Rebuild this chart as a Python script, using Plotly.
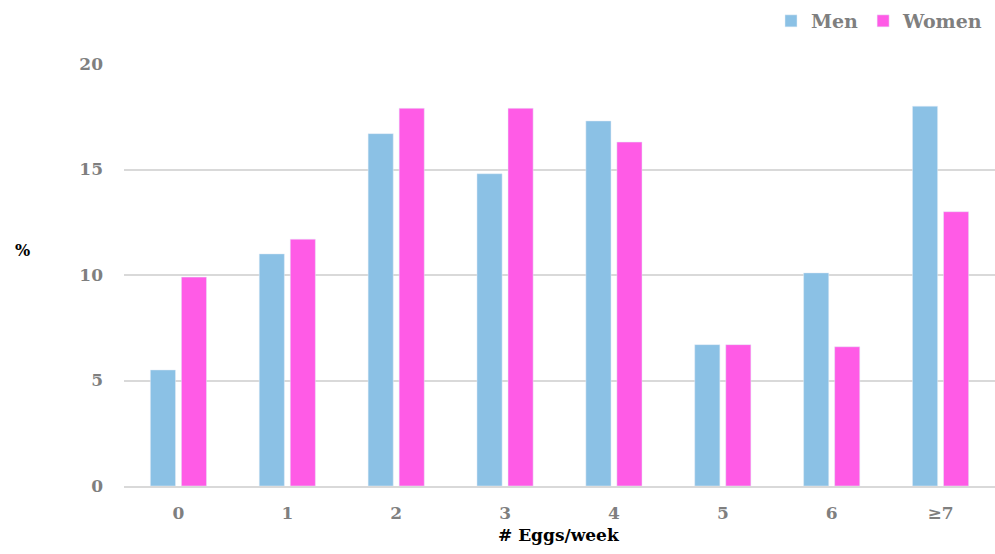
import plotly.graph_objects as go

categories = ["0", "1", "2", "3", "4", "5", "6", "≥7"]
men = [5.5, 11.0, 16.7, 14.8, 17.3, 6.7, 10.1, 18.0]
women = [9.9, 11.7, 17.9, 17.9, 16.3, 6.7, 6.6, 13.0]
y_ticks = [0, 5, 10, 15, 20]

FONT = "DejaVu Serif"
GRAY = "#7F7F7F"

L, T, W, H = 124, 64, 871, 422

fig = go.Figure()
fig.add_trace(go.Bar(name="<b>Men</b>", x=categories, y=men, marker_color="#8BC1E5"))
fig.add_trace(go.Bar(name="<b>Women</b>", x=categories, y=women, marker_color="#FF5BE6"))

fig.update_layout(
    width=995, height=554,
    margin=dict(l=L, r=995 - L - W, t=T, b=554 - T - H, autoexpand=False),
    paper_bgcolor="white", plot_bgcolor="white",
    barmode="group", bargap=0.43, bargroupgap=0.19,
    font=dict(family=FONT, color=GRAY, size=17),
    legend=dict(orientation="h", x=(988 - L) / W, xanchor="right", y=(486 - 2) / H, yanchor="top",
                font=dict(family=FONT, size=19, color=GRAY),
                itemwidth=30, tracegroupgap=0, bgcolor="rgba(0,0,0,0)"),
    xaxis=dict(type="category", showgrid=False, showline=True, linecolor="#D9D9D9",
               linewidth=1.5, ticks="", automargin=False,
               tickvals=categories, ticktext=[f"<b>{c}</b>" for c in categories],
               tickfont=dict(family=FONT, size=17, color=GRAY),
               ticklabelstandoff=11),
    yaxis=dict(range=[0, 20], tickvals=y_ticks, ticktext=[f"<b>{v}</b>" for v in y_ticks],
               showgrid=True, gridcolor="#D9D9D9", gridwidth=1.5, zeroline=False,
               showline=False, ticks="", ticklabelstandoff=20, automargin=False,
               tickfont=dict(family=FONT, size=17, color=GRAY)),
)
fig.add_annotation(text="<b>%</b>", xref="paper", yref="paper", showarrow=False,
                   x=(22 - L) / W, y=(486 - 250) / H, xanchor="center", yanchor="middle",
                   font=dict(family=FONT, size=16, color="#000000"))
fig.add_annotation(text="<b># Eggs/week</b>", xref="paper", yref="paper", showarrow=False,
                   x=(559 - L) / W, y=(486 - 535) / H, xanchor="center", yanchor="middle",
                   font=dict(family=FONT, size=17, color="#000000"))

fig.write_html("out.html", config={"displayModeBar": False},
               post_script="document.body.style.margin='0';document.body.style.overflow='hidden';")
